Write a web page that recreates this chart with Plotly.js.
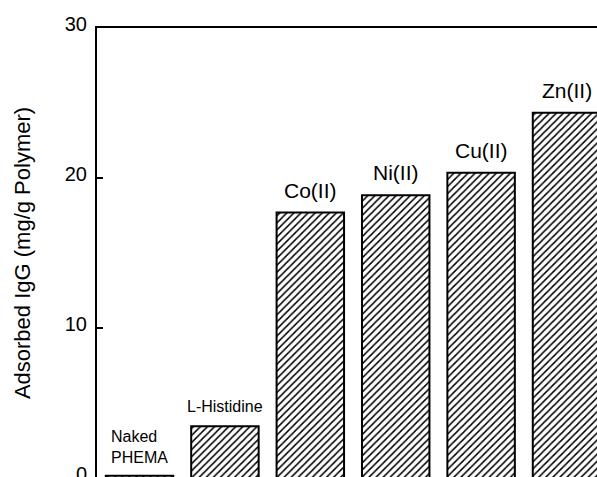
<!DOCTYPE html>
<html>
<head>
<meta charset="utf-8">
<script src="https://cdn.plot.ly/plotly-3.0.1.min.js"></script>
<style>
html, body { margin: 0; padding: 0; width: 597px; height: 477px; overflow: hidden; background: #fff; }
#wrap { width: 597px; height: 477px; overflow: hidden; }
</style>
</head>
<body>
<div id="wrap"><div id="chart"></div></div>
<script>
// Data
const categories = ["Naked PHEMA", "L-Histidine", "Co(II)", "Ni(II)", "Cu(II)", "Zn(II)"];
const barLabels = ["Naked<br>PHEMA", "L-Histidine", "Co(II)", "Ni(II)", "Cu(II)", "Zn(II)"];
const adsorbedIgG = [0.15, 3.45, 17.7, 18.85, 20.35, 24.35];
const yTickVals = [0, 10, 20, 30];
const yTickText = ["0", "10", "20", "30"];

const FONT = "'Liberation Sans', Arial, Helvetica, sans-serif";

const trace = {
  type: "bar",
  x: categories,
  y: adsorbedIgG,
  width: 0.79,
  marker: {
    color: "#ffffff",
    line: { color: "#000000", width: 2 },
    pattern: { shape: "/", fgcolor: "#000000", bgcolor: "#ffffff", size: 5, solidity: 0.3 }
  },
  hoverinfo: "x+y"
};

const labelSizes = [16, 16, 21, 21, 21, 21];
const annotations = categories.map((c, i) => ({
  x: c,
  y: adsorbedIgG[i],
  xref: "x",
  yref: "y",
  text: barLabels[i],
  showarrow: false,
  yanchor: "bottom",
  align: i === 0 ? "left" : "center",
  yshift: i === 0 ? 8 : 9,
  font: { family: FONT, size: labelSizes[i], color: "#000" }
}));

const layout = {
  width: 597,
  height: 560,
  margin: { l: 97, r: 0, t: 28, b: 82 },
  paper_bgcolor: "#ffffff",
  plot_bgcolor: "#ffffff",
  showlegend: false,
  font: { family: FONT, color: "#000" },
  xaxis: {
    type: "category",
    range: [-0.498, 5.357],
    showline: true,
    mirror: true,
    linecolor: "#000",
    linewidth: 2,
    showticklabels: false,
    ticks: "",
    showgrid: false,
    zeroline: false,
    fixedrange: true
  },
  yaxis: {
    range: [0, 30],
    tickvals: yTickVals,
    ticktext: yTickText,
    ticks: "inside",
    ticklen: 6,
    tickwidth: 2,
    tickcolor: "#000",
    showline: true,
    linecolor: "#000",
    linewidth: 2,
    showgrid: false,
    zeroline: false,
    ticklabelstandoff: 4,
    ticklabelshift: -4,
    tickfont: { family: FONT, size: 20, color: "#000" },
    title: {
      text: "Adsorbed IgG (mg/g Polymer)",
      font: { family: FONT, size: 22, color: "#000" },
      standoff: 28
    },
    automargin: false,
    fixedrange: true
  },
  annotations: annotations
};

Plotly.newPlot("chart", [trace], layout, { displayModeBar: false, staticPlot: true });
</script>
</body>
</html>
